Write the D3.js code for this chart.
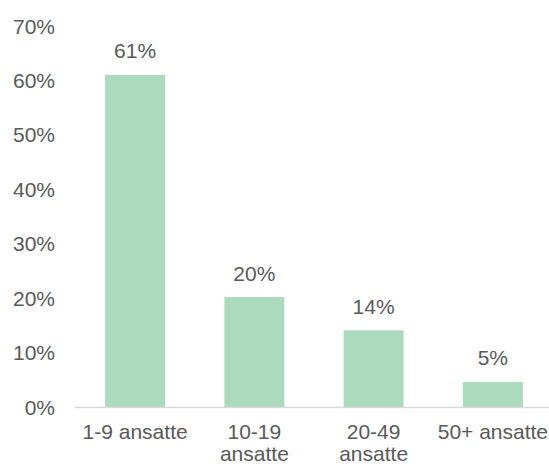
<!DOCTYPE html>
<html>
<head>
<meta charset="utf-8">
<script src="https://cdn.jsdelivr.net/npm/d3@7"></script>
<style>
  html, body { margin: 0; padding: 0; background: #fff; }
  svg { display: block; }
  text { font-family: "Liberation Sans", Arial, sans-serif; fill: #595959; }
</style>
</head>
<body>
<svg id="chart" width="549" height="464"></svg>
<script>
const categories = ["1-9 ansatte", "10-19 ansatte", "20-49 ansatte", "50+ ansatte"];
const categoryLines = [["1-9 ansatte"], ["10-19", "ansatte"], ["20-49", "ansatte"], ["50+ ansatte"]];
const values = [0.61, 0.202, 0.141, 0.046];
const valueLabels = ["61%", "20%", "14%", "5%"];
const yTicks = [0, 0.1, 0.2, 0.3, 0.4, 0.5, 0.6, 0.7];

const svg = d3.select("#chart");
const x = d3.scaleBand().domain(categories).range([75.5, 552.5]).paddingInner(0.497).paddingOuter(0.2485);
const y = d3.scaleLinear().domain([0, 0.7]).range([407, 26]);

const fs = 21;

// y labels
svg.append("g").selectAll("text").data(yTicks).join("text")
  .attr("x", 55).attr("y", d => y(d)).attr("dy", "0.36em")
  .attr("text-anchor", "end").attr("font-size", fs)
  .text(d => d3.format(".0%")(d));

// bars
svg.append("g").selectAll("rect").data(values).join("rect")
  .attr("x", (d, i) => x(categories[i]))
  .attr("width", x.bandwidth())
  .attr("y", d => y(d))
  .attr("height", d => y(0) - y(d))
  .attr("fill", "#acdabd");

// axis line
svg.append("line").attr("x1", 75).attr("x2", 549).attr("y1", 407.5).attr("y2", 407.5)
  .attr("stroke", "#d9d9d9").attr("stroke-width", 1.5);

// value labels
svg.append("g").selectAll("text").data(values).join("text")
  .attr("x", (d, i) => x(categories[i]) + x.bandwidth() / 2)
  .attr("y", d => y(d) - 16.5)
  .attr("text-anchor", "middle").attr("font-size", fs)
  .text((d, i) => valueLabels[i]);

// category labels
const cg = svg.append("g").selectAll("text").data(categories).join("text")
  .attr("x", d => x(d) + x.bandwidth() / 2)
  .attr("y", 439)
  .attr("text-anchor", "middle").attr("font-size", fs);
cg.each(function(d, i) {
  const t = d3.select(this);
  categoryLines[i].forEach((line, j) => {
    t.append("tspan").attr("x", x(d) + x.bandwidth() / 2).attr("dy", j === 0 ? 0 : 21.5).text(line);
  });
});
</script>
</body>
</html>
